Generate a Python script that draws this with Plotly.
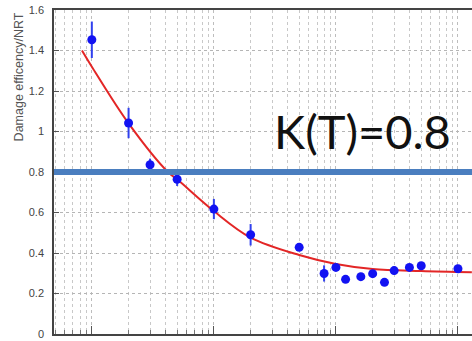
import plotly.graph_objects as go

# Measured damage efficiency (normalised to NRT) vs. energy
energy = [1, 2, 3, 5, 10, 20, 50, 80, 100, 120, 160, 200, 250, 300, 400, 500, 1000]
efficiency = [1.453, 1.042, 0.836, 0.764, 0.617, 0.490, 0.428, 0.299, 0.329,
              0.270, 0.283, 0.298, 0.255, 0.313, 0.329, 0.337, 0.322]
efficiency_err = [0.09, 0.075, 0.03, 0.033, 0.05, 0.053, 0.01, 0.04, 0.015,
                  0.01, 0.01, 0.015, 0.01, 0.02, 0.01, 0.01, 0.01]

# Fitted trend, sampled along the curve
fit_energy = [0.83, 1, 2, 4.2, 5, 10, 20, 50, 100, 200, 500, 1300]
fit_efficiency = [1.40, 1.32, 1.04, 0.80, 0.764, 0.607, 0.476, 0.39, 0.346,
                  0.321, 0.311, 0.305]

# Kinchin-Pease displacement efficiency
k_t = 0.8

y_ticks = [0, 0.2, 0.4, 0.6, 0.8, 1.0, 1.2, 1.4, 1.6]
y_tick_text = ["0", "0.2", "0.4", "0.6", "0.8", "1", "1.2", "1.4", "1.6"]

decades = [0.1, 1, 10, 100, 1000, 10000]
minor_vals = [k * d for d in decades for k in range(2, 10)]

fig = go.Figure()

fig.add_trace(go.Scatter(
    x=fit_energy, y=fit_efficiency, mode="lines",
    line=dict(color="#E32626", width=2, shape="spline", smoothing=1.0),
    hoverinfo="skip", showlegend=False,
))

fig.add_trace(go.Scatter(
    x=energy, y=efficiency, mode="markers",
    marker=dict(color="#1212F2", size=9),
    error_y=dict(type="data", array=efficiency_err, color="#3040EE",
                 thickness=2, width=0),
    showlegend=False,
))

fig.add_shape(type="line", xref="paper", x0=0, x1=1, yref="y", y0=k_t, y1=k_t,
              line=dict(color="#4A7EBF", width=6), layer="above")

fig.add_annotation(
    text=f"K(T)={k_t}", xref="paper", yref="paper",
    x=0.522, y=0.628, xanchor="left", yanchor="middle", showarrow=False,
    font=dict(family="Lato", size=47, color="#111111"),
)

fig.add_annotation(
    text="Damage efficency/NRT", xref="paper", yref="paper",
    x=-0.084, y=1.0, xanchor="center", yanchor="top", textangle=-90,
    showarrow=False, font=dict(family="Liberation Sans", size=12.5, color="#555555"),
)

fig.update_xaxes(
    type="log", range=[-0.31, 3.115],
    tickmode="array", tickvals=decades, showticklabels=False,
    ticks="inside", ticklen=8, tickcolor="#555555",
    showgrid=True, gridcolor="#BDBDBD", griddash="dot", gridwidth=1,
    minor=dict(tickmode="array", tickvals=minor_vals, ticks="inside", ticklen=4,
               tickcolor="#777777", showgrid=True, gridcolor="#C8C8C8",
               griddash="dot", gridwidth=1),
    showline=True, linecolor="#444444", linewidth=1.5, mirror=True,
    zeroline=False,
)

fig.update_yaxes(
    range=[0, 1.6], tickmode="array", tickvals=y_ticks, ticktext=y_tick_text,
    ticks="inside", ticklen=5, tickcolor="#555555",
    tickfont=dict(family="Liberation Sans", size=11, color="#444444"),
    ticklabelstandoff=6,
    showgrid=True, gridcolor="#B5B5B5", griddash="dot", gridwidth=1,
    showline=True, linecolor="#444444", linewidth=1.5, mirror=False,
    zeroline=False,
)

fig.update_layout(
    width=472, height=341,
    margin=dict(l=54, r=0, t=10, b=7),
    plot_bgcolor="white", paper_bgcolor="white",
)

fig.write_html("out.html")
